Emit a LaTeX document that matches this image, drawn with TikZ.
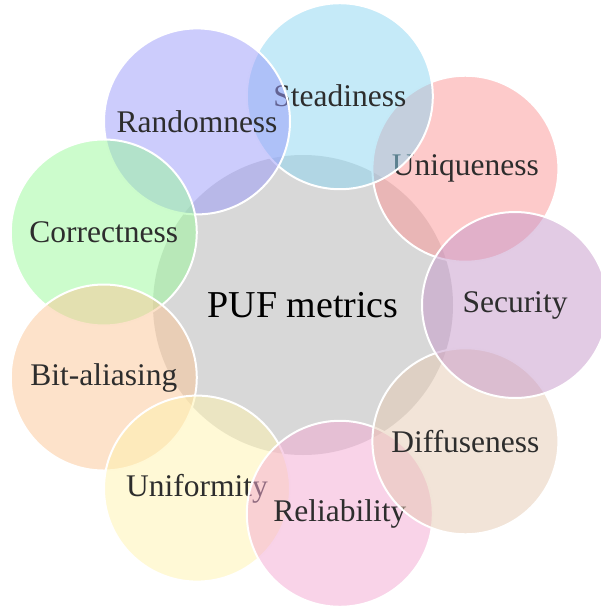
\documentclass[tikz,border=0pt]{standalone}
\usepackage{fontspec}
\setmainfont{Liberation Serif}
\usetikzlibrary{calc}
\definecolor{cSteady}{RGB}{139,213,241}
\definecolor{cUnique}{RGB}{251,149,149}
\definecolor{cSecure}{RGB}{197,151,201}
\definecolor{cDiffuse}{RGB}{229,201,177}
\definecolor{cReliable}{RGB}{243,167,209}
\definecolor{cUniform}{RGB}{255,243,173}
\definecolor{cAlias}{RGB}{251,197,149}
\definecolor{cCorrect}{RGB}{153,249,153}
\definecolor{cRandom}{RGB}{153,153,249}
\definecolor{cHub}{RGB}{216,216,216}
\definecolor{cLabel}{RGB}{45,45,45}
\tikzset{
  hub/.style={circle, fill=cHub, minimum size=300pt, inner sep=0pt,
    font=\fontsize{38}{44}\selectfont, text=black},
  metric/.style={circle, fill=#1, fill opacity=0.5, draw=white, draw opacity=1,
    line width=2pt, minimum size=186pt, inner sep=0pt, text opacity=1,
    text=cLabel, font=\fontsize{31.5}{36}\selectfont}
}
\begin{document}
\begin{tikzpicture}[x=1pt,y=-1pt]
\useasboundingbox (0,0) rectangle (600,608);
\coordinate (o) at (303,305);
\node[hub] (hub) at (o) {PUF metrics};
% ring of metrics, 40 degrees apart, radius 212
\node[metric=cUnique]   (uniq)   at ($(o)+(40:212 and -212)$)  {Uniqueness};
\node[metric=cSteady]   (stead)  at ($(o)+(80:212 and -212)$)  {Steadiness};
\node[metric=cRandom]   (rand)   at ($(o)+(120:212 and -212)$) {Randomness};
\node[metric=cCorrect]  (corr)   at ($(o)+(160:212 and -212)$) {Correctness};
\node[metric=cAlias]    (alias)  at ($(o)+(200:212 and -212)$) {Bit-aliasing};
\node[metric=cUniform]  (unif)   at ($(o)+(240:212 and -212)$) {Uniformity};
\node[metric=cReliable] (rel)    at ($(o)+(280:212 and -212)$) {Reliability};
\node[metric=cDiffuse]  (diff)   at ($(o)+(320:212 and -212)$) {Diffuseness};
\node[metric=cSecure]   (sec)    at ($(o)+(0:212 and -212)$)   {Security};
\end{tikzpicture}
\end{document}
